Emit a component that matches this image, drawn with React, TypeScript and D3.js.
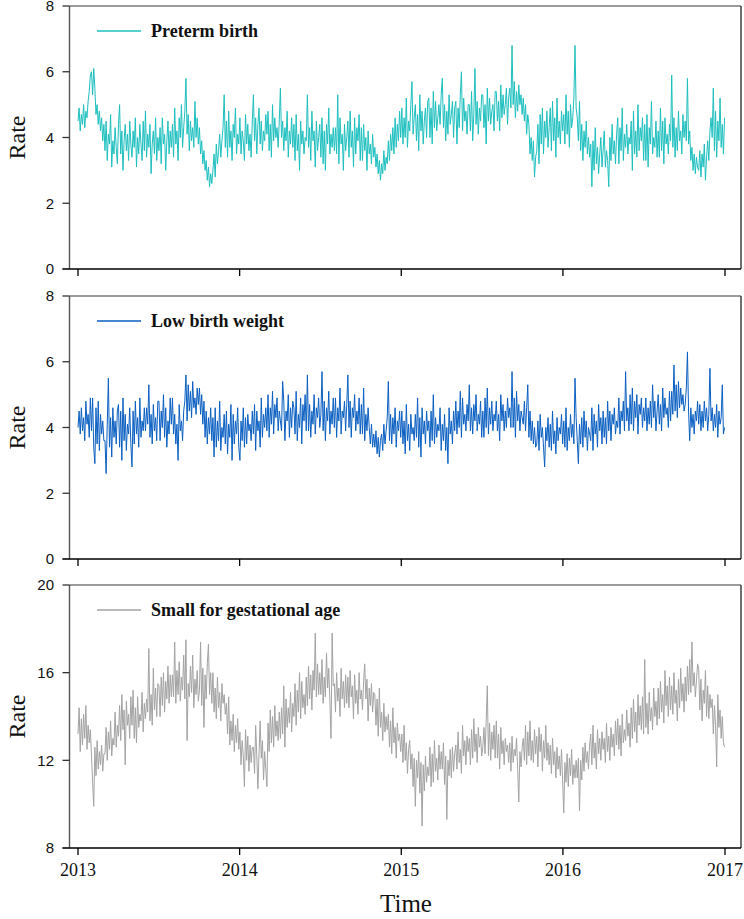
import React from "react";
import * as d3 from "d3";

// ---------- DATA (12 samples per month, Jan 2013 .. Dec 2016) ----------
const yearTicks = [2013, 2014, 2015, 2016, 2017];

const seriesNames = ["Preterm birth", "Low birth weight", "Small for gestational age"];

const pretermRate = [
  4.5, 4.9, 4.2, 4.7, 4.4, 5.0, 4.3, 4.8, 4.6, 5.1, 5.4, 5.9,
  6.0, 5.3, 6.1, 5.5, 4.7, 5.0, 4.4, 4.8, 4.2, 4.6, 3.9, 4.4,
  3.6, 4.5, 3.3, 4.1, 3.8, 4.7, 3.1, 3.9, 3.5, 4.3, 3.7, 3.2,
  4.4, 5.0, 3.5, 4.2, 3.0, 3.9, 4.4, 3.6, 4.1, 3.3, 4.5, 3.8,
  3.4, 4.2, 3.7, 4.6, 3.1, 4.0, 3.5, 4.4, 3.8, 3.3, 4.5, 3.6,
  4.8, 3.4, 4.1, 3.7, 4.4, 2.9, 3.8, 4.2, 3.5, 4.6, 3.3, 4.0,
  3.6, 4.3, 3.2, 4.6, 3.8, 4.1, 3.0, 3.9, 4.5, 3.5, 4.2, 3.7,
  4.4, 3.4, 4.9, 3.8, 4.2, 3.3, 4.6, 4.0, 5.0, 3.7, 4.3, 4.8,
  5.8, 4.1, 4.7, 3.6, 4.5, 3.9, 4.3, 3.7, 5.1, 4.0, 4.6, 3.8,
  4.3, 3.5, 3.9, 3.2, 3.6, 3.0, 3.3, 2.7, 3.1, 2.5, 2.9, 2.6,
  3.0, 3.5, 2.8, 3.8, 3.2, 3.6, 4.1, 3.4, 3.9, 4.3, 5.3, 3.7,
  4.5, 3.4, 4.8, 3.7, 4.2, 3.3, 4.4, 4.0, 4.9, 3.5, 4.1, 3.8,
  4.6, 3.5, 4.2, 3.9, 3.3, 4.7, 3.8, 4.4, 3.6, 4.1, 3.4, 4.5,
  5.3, 3.9, 4.6, 3.5, 4.4, 4.9, 3.8, 4.5, 3.6, 4.2, 3.9, 4.7,
  4.1, 4.8, 3.6, 4.4, 3.4, 5.0, 3.9, 4.6, 4.0, 4.3, 3.7, 4.5,
  5.5, 4.0, 4.5, 3.6, 4.3, 3.9, 4.8, 3.4, 4.2, 3.8, 4.6, 3.7,
  4.4, 3.3, 4.7, 3.6, 4.1, 3.0, 4.5, 3.8, 4.2, 3.5, 4.0, 3.9,
  5.3, 3.7, 4.3, 3.3, 4.8, 3.9, 4.2, 3.1, 4.5, 3.6, 4.0, 4.4,
  3.4, 4.6, 3.2, 4.2, 3.0, 4.4, 3.8, 4.9, 3.5, 4.1, 3.7, 4.3,
  3.6, 4.3, 3.5, 5.3, 3.2, 4.6, 3.8, 4.1, 3.0, 4.4, 3.6, 4.0,
  4.5, 3.4, 4.8, 3.7, 4.2, 3.1, 4.6, 3.5, 4.3, 3.9, 4.7, 3.3,
  4.3, 3.3, 4.4, 3.6, 4.0, 3.0, 4.2, 3.5, 3.8, 3.2, 4.1, 3.4,
  3.7, 3.1, 3.5, 2.9, 3.3, 2.7, 3.2, 2.9, 3.6, 3.0, 3.4, 3.2,
  3.9, 3.3, 4.1, 3.6, 4.3, 3.5, 4.6, 3.7, 4.4, 3.9, 4.8, 4.0,
  4.9, 3.8, 4.6, 4.0, 5.2, 3.7, 4.5, 4.2, 5.0, 5.7, 4.1, 4.6,
  5.0, 3.9, 4.7, 3.6, 5.3, 4.2, 4.8, 3.8, 4.5, 4.9, 4.0, 5.1,
  5.2, 4.0, 4.9, 3.8, 5.4, 4.3, 5.1, 4.2, 4.6, 5.0, 4.4, 5.3,
  5.8, 4.3, 5.0, 3.9, 4.8, 4.1, 5.3, 4.4, 4.7, 5.1, 4.0, 4.9,
  5.1, 3.8, 4.9, 4.3, 5.3, 6.0, 4.2, 5.2, 4.5, 4.8, 4.1, 5.0,
  5.0, 4.2, 5.4, 3.9, 4.7, 6.1, 4.4, 5.1, 4.1, 4.9, 4.5, 5.3,
  5.3, 4.3, 5.0, 3.8, 5.5, 4.5, 5.2, 4.4, 4.8, 5.0, 4.2, 5.4,
  5.4, 4.5, 5.1, 4.2, 5.6, 4.6, 5.3, 4.7, 5.0, 5.5, 4.4, 5.2,
  5.5, 4.9, 6.8, 5.0, 5.7, 4.6, 5.4, 4.8, 5.6, 5.0, 5.3, 4.7,
  5.2, 4.5, 5.0, 4.1, 4.7, 4.4, 3.5, 4.0, 3.3, 3.9, 2.8, 3.4,
  3.6, 4.4, 3.2, 4.7, 3.8, 4.9, 3.5, 4.5, 4.0, 4.8, 3.7, 4.3,
  4.9, 3.6, 5.1, 3.9, 4.6, 3.4, 5.2, 4.0, 4.5, 3.8, 4.8, 4.2,
  4.7, 3.8, 5.3, 4.1, 4.8, 3.7, 5.0, 4.3, 4.6, 5.2, 6.8, 4.9,
  4.6, 3.9, 5.1, 3.6, 4.4, 3.3, 4.2, 3.7, 4.5, 3.5, 4.0, 3.4,
  3.8, 2.5, 3.9, 3.0, 4.3, 3.2, 3.7, 2.9, 3.5, 4.0, 3.1, 3.6,
  4.2, 3.1, 3.6, 3.3, 2.5, 4.0, 3.3, 4.4, 3.5, 3.9, 3.2, 4.1,
  4.6, 3.2, 4.3, 3.6, 4.9, 3.3, 4.1, 3.7, 4.4, 3.5, 4.0, 3.8,
  4.5, 3.0, 4.8, 3.5, 4.2, 3.4, 5.0, 3.6, 4.3, 3.9, 4.6, 3.3,
  4.4, 3.3, 4.7, 3.1, 4.3, 3.8, 5.1, 3.5, 4.0, 3.7, 4.5, 3.4,
  4.2, 3.4, 4.9, 3.6, 4.5, 3.2, 4.6, 3.8, 4.1, 3.5, 4.4, 3.9,
  5.9, 3.7, 4.6, 3.4, 4.3, 3.6, 4.8, 3.9, 4.2, 3.5, 4.7, 4.0,
  4.5, 3.9, 5.8, 3.8, 4.2, 3.3, 3.7, 3.0, 3.5, 2.9, 3.4, 3.1,
  3.0, 3.6, 2.8, 3.5, 3.1, 3.8, 2.7, 3.4, 3.9, 3.3, 4.2, 4.6,
  4.0, 5.5, 3.6, 4.8, 3.4, 4.5, 3.9, 5.2, 3.7, 4.4, 3.5, 4.6,
];

const lowBirthWeightRate = [
  4.0, 4.5, 3.8, 4.6, 3.9, 4.3, 3.6, 4.8, 4.1, 4.4, 3.7, 4.9,
  3.9, 4.9, 3.4, 2.9, 4.6, 3.5, 4.8, 3.3, 4.4, 3.8, 4.2, 3.6,
  3.6, 2.6, 4.1, 5.5, 3.4, 4.3, 3.1, 4.6, 3.7, 4.2, 3.5, 4.5,
  4.7, 3.4, 4.5, 3.0, 4.9, 3.6, 4.4, 3.3, 4.1, 3.8, 4.6, 3.5,
  2.8, 4.5, 3.5, 4.8, 3.8, 4.3, 3.4, 4.9, 3.7, 4.2, 3.9, 4.6,
  3.9, 4.6, 4.1, 5.3, 3.7, 4.4, 3.5, 4.7, 3.9, 4.3, 3.6, 4.8,
  4.8, 3.6, 4.5, 4.0, 5.0, 3.7, 4.6, 3.4, 4.2, 3.8, 4.9, 4.1,
  4.9, 3.8, 4.4, 3.5, 4.1, 3.0, 4.7, 3.9, 4.2, 3.6, 4.5, 4.8,
  5.6, 4.2, 5.3, 4.5, 5.1, 4.3, 5.4, 4.6, 4.9, 4.4, 5.2, 4.7,
  5.2, 4.4, 5.0, 4.1, 4.8, 3.7, 4.5, 3.5, 4.3, 3.8, 4.6, 3.6,
  4.3, 3.1, 4.6, 3.4, 4.2, 3.6, 4.8, 3.3, 4.0, 3.7, 4.4, 3.5,
  4.5, 3.2, 4.1, 3.7, 4.7, 3.0, 4.4, 3.5, 4.2, 3.8, 4.6, 3.4,
  3.0, 4.2, 3.6, 4.6, 3.4, 4.3, 3.5, 4.4, 3.9, 4.1, 3.6, 4.5,
  3.8, 4.7, 3.3, 4.5, 3.9, 4.2, 3.4, 4.9, 3.7, 4.4, 4.0, 4.6,
  3.9, 5.0, 3.7, 4.6, 4.1, 5.1, 3.8, 4.7, 4.3, 4.9, 3.9, 4.5,
  4.2, 3.9, 5.4, 4.8, 3.6, 4.5, 4.2, 5.0, 3.7, 4.6, 4.0, 4.8,
  4.6, 3.8, 5.1, 3.6, 4.4, 4.0, 4.9, 3.5, 4.7, 4.2, 5.0, 3.9,
  5.6, 3.9, 4.7, 3.7, 4.5, 4.1, 5.0, 3.8, 4.6, 4.3, 4.9, 4.0,
  4.4, 5.7, 3.9, 4.8, 3.6, 4.6, 4.2, 5.1, 3.8, 4.5, 4.1, 4.9,
  4.0, 4.9, 3.7, 4.6, 4.2, 5.2, 3.8, 4.5, 4.3, 4.8, 3.9, 4.7,
  5.6, 4.0, 4.8, 3.7, 4.6, 4.3, 5.0, 3.9, 4.5, 4.1, 4.9, 3.8,
  4.7, 3.8, 5.2, 3.6, 4.4, 3.9, 4.6, 4.0, 3.5, 4.1, 3.4, 3.8,
  3.4, 3.9, 3.2, 3.7, 3.1, 3.6, 3.8, 3.3, 4.1, 3.5, 3.9, 4.3,
  5.4, 3.6, 4.4, 3.5, 4.3, 3.8, 4.6, 3.4, 4.2, 3.9, 4.5, 3.7,
  4.5, 3.5, 4.2, 3.2, 4.7, 3.6, 4.1, 3.3, 4.4, 3.8, 4.0, 3.6,
  4.4, 3.7, 4.9, 3.4, 4.3, 3.1, 4.6, 3.8, 4.2, 3.5, 4.5, 3.9,
  4.2, 3.4, 4.5, 3.6, 5.0, 3.5, 4.3, 3.7, 4.1, 3.9, 4.6, 3.3,
  4.1, 3.6, 4.4, 3.3, 4.0, 2.9, 4.6, 3.8, 4.2, 3.5, 4.5, 3.9,
  4.8, 3.8, 4.5, 4.0, 5.1, 3.7, 4.9, 4.1, 4.4, 3.9, 4.7, 4.2,
  5.3, 3.9, 4.6, 3.8, 4.7, 4.2, 5.0, 3.9, 4.4, 4.1, 4.8, 3.7,
  4.5, 3.7, 4.9, 4.0, 5.2, 3.8, 4.6, 4.1, 4.8, 3.9, 4.4, 4.2,
  4.8, 3.9, 4.4, 3.6, 5.0, 4.2, 4.7, 3.9, 4.5, 4.0, 4.9, 4.3,
  4.6, 4.0, 5.7, 4.0, 4.9, 3.7, 5.1, 4.2, 4.7, 3.9, 4.5, 4.3,
  4.1, 4.8, 3.9, 4.6, 5.3, 3.7, 4.5, 3.6, 4.2, 3.5, 4.0, 3.4,
  3.5, 4.2, 3.3, 4.4, 3.7, 4.0, 3.4, 2.8, 4.0, 3.6, 4.3, 3.4,
  4.1, 3.3, 4.5, 3.5, 3.9, 3.2, 4.3, 3.6, 4.0, 3.8, 4.4, 3.5,
  4.2, 3.4, 4.6, 3.3, 4.0, 3.6, 4.4, 3.7, 4.1, 3.5, 5.5, 4.3,
  3.6, 2.9, 4.1, 3.5, 4.3, 3.4, 4.5, 3.7, 4.2, 3.3, 4.0, 3.8,
  3.6, 4.6, 3.3, 4.4, 3.8, 4.2, 3.4, 4.7, 3.9, 4.3, 3.5, 4.5,
  3.7, 4.3, 3.5, 4.8, 3.9, 4.5, 3.6, 4.4, 4.1, 4.6, 3.8, 4.2,
  4.0, 4.9, 3.8, 4.5, 4.2, 4.8, 3.9, 5.7, 4.2, 4.6, 3.9, 5.0,
  4.1, 5.2, 3.9, 4.8, 4.3, 5.0, 3.8, 4.7, 4.4, 4.9, 4.0, 4.6,
  4.2, 4.9, 3.9, 4.6, 4.1, 4.8, 4.0, 5.3, 4.3, 4.8, 3.9, 4.5,
  5.0, 4.1, 4.7, 3.9, 5.2, 4.3, 4.9, 4.4, 4.6, 4.0, 5.1, 4.2,
  5.1, 4.4, 5.9, 4.5, 5.3, 4.3, 5.4, 4.6, 5.2, 4.7, 5.0, 4.5,
  4.7, 5.2, 6.3, 4.5, 3.6, 4.6, 4.0, 4.4, 3.8, 4.5, 4.2, 4.8,
  4.1, 4.7, 3.9, 4.5, 4.0, 4.8, 4.2, 4.6, 3.9, 4.4, 5.8, 4.2,
  4.6, 3.9, 4.4, 4.0, 4.7, 3.7, 4.5, 4.1, 4.3, 5.3, 3.8, 4.0,
];

const smallForGestAgeRate = [
  13.2, 14.4, 12.4, 13.9, 12.7, 14.1, 13.0, 14.5, 12.5, 13.6, 12.8, 13.4,
  12.2, 11.0, 9.9, 12.6, 11.3, 12.9, 11.6, 12.4, 11.8, 12.7, 11.5, 12.3,
  12.3, 13.5, 12.0, 13.3, 12.5, 13.8, 12.2, 13.0, 12.7, 14.2, 12.6, 13.6,
  13.1, 14.5, 12.9, 15.0, 13.4, 14.3, 11.8, 14.7, 13.6, 14.1, 13.0, 14.9,
  13.6, 15.2, 13.0, 14.4, 12.8, 14.9, 13.5, 14.1, 13.8, 15.1, 13.3, 14.6,
  13.9, 14.8, 14.2, 17.1, 13.8, 15.0, 13.6, 16.2, 14.3, 15.3, 14.0, 15.5,
  15.4, 14.0, 15.8, 14.5, 16.0, 14.2, 15.6, 14.8, 16.3, 14.6, 15.9, 14.9,
  15.9, 14.9, 17.4, 14.6, 16.1, 15.0, 16.5, 14.7, 15.8, 15.2, 16.8, 14.8,
  17.5, 12.9, 15.5, 14.9, 16.3, 15.1, 16.8, 14.4, 15.7, 15.0, 16.1, 14.7,
  15.2, 17.4, 14.5, 16.2, 13.5, 15.9, 14.8, 16.4, 17.3, 15.0, 16.0, 14.6,
  16.0, 14.2, 15.3, 13.9, 15.8, 14.4, 15.1, 13.8, 15.5, 14.6, 15.0, 14.1,
  14.6, 13.2, 14.9, 12.7, 13.8, 12.9, 14.1, 12.4, 13.6, 12.8, 13.9, 12.5,
  13.3, 11.8, 12.9, 12.2, 10.8, 13.4, 12.0, 13.1, 11.5, 12.7, 11.9, 12.6,
  12.6, 11.4, 13.6, 12.2, 10.7, 12.3, 13.8, 12.1, 12.9, 11.1, 12.4, 11.6,
  10.8, 13.7, 12.4, 14.3, 12.8, 14.0, 12.6, 14.5, 13.1, 13.8, 12.9, 14.2,
  13.0, 14.4, 13.2, 15.4, 12.6, 14.8, 13.5, 14.4, 13.7, 15.1, 13.3, 14.6,
  14.0, 15.5, 13.6, 15.2, 14.2, 16.0, 13.9, 15.6, 14.4, 15.0, 14.1, 15.8,
  14.5, 16.3, 14.8, 15.9, 14.3, 16.1, 15.2, 17.8, 14.9, 16.4, 15.0, 16.0,
  15.0, 16.6, 14.6, 15.8, 14.9, 16.9, 15.3, 16.2, 14.7, 13.0, 17.8, 15.4,
  15.5, 14.2, 16.0, 14.7, 15.3, 14.0, 16.2, 14.8, 15.6, 14.4, 15.9, 14.6,
  15.8, 14.4, 16.1, 14.9, 15.4, 13.9, 15.9, 14.6, 15.2, 14.1, 16.0, 14.8,
  15.2, 14.3, 15.6, 16.4, 14.8, 15.7, 13.8, 15.3, 14.5, 15.5, 14.2, 15.1,
  15.0, 13.6, 14.8, 13.1, 15.3, 13.5, 14.2, 12.9, 14.6, 13.3, 14.0, 13.4,
  14.1, 12.6, 13.8, 12.3, 14.4, 12.8, 13.5, 12.1, 13.7, 12.9, 13.2, 12.4,
  13.2, 11.9, 13.6, 12.0, 12.8, 11.4, 12.5, 12.9, 11.6, 12.3, 10.8, 12.1,
  9.9, 12.0, 11.2, 12.4, 10.5, 11.9, 9.0, 11.8, 10.6, 12.2, 11.0, 11.7,
  11.3, 12.6, 10.8, 12.3, 11.0, 12.9, 11.5, 12.1, 11.1, 12.7, 11.6, 12.4,
  11.6, 12.8, 10.9, 12.2, 9.3, 12.0, 11.3, 12.5, 11.2, 12.6, 11.5, 12.3,
  12.7, 11.6, 13.3, 11.9, 12.5, 11.4, 13.6, 12.2, 12.9, 11.8, 13.1, 12.4,
  13.0, 11.8, 13.4, 12.1, 13.9, 12.4, 13.2, 11.9, 13.5, 12.6, 13.1, 12.2,
  12.6, 13.5, 12.3, 13.8, 15.4, 12.2, 13.7, 12.0, 13.3, 12.5, 13.6, 12.1,
  13.8, 12.1, 13.2, 11.6, 13.5, 12.3, 12.9, 11.8, 13.0, 12.4, 12.7, 11.9,
  12.8, 11.5, 13.1, 11.9, 12.5, 12.2, 13.0, 11.6, 10.1, 12.4, 11.7, 12.6,
  13.0, 12.0, 13.6, 11.8, 13.3, 12.2, 13.8, 12.0, 12.9, 11.9, 13.4, 12.3,
  13.1, 11.7, 13.5, 12.4, 13.2, 11.5, 12.9, 12.1, 13.6, 12.0, 12.8, 11.8,
  12.7, 11.4, 13.0, 11.8, 12.4, 11.2, 12.6, 11.6, 12.2, 11.3, 12.5, 11.1,
  9.6, 11.9, 11.0, 12.3, 10.8, 12.1, 11.3, 12.5, 10.9, 11.8, 11.2, 12.0,
  11.2, 12.1, 9.7, 12.0, 11.1, 12.6, 11.5, 12.8, 11.9, 12.4, 11.6, 12.7,
  13.2, 11.8, 13.6, 12.1, 12.8, 11.6, 13.4, 12.3, 13.0, 12.0, 13.3, 12.5,
  13.0, 11.9, 13.7, 12.4, 13.1, 12.0, 13.5, 12.6, 13.2, 12.2, 13.8, 12.7,
  13.9, 12.5, 13.6, 12.2, 14.1, 12.8, 13.4, 12.9, 14.3, 13.1, 13.7, 12.6,
  14.4, 13.0, 14.8, 13.3, 14.2, 12.8, 15.0, 13.6, 14.5, 13.4, 14.9, 13.2,
  16.6, 13.5, 14.6, 13.2, 15.1, 13.8, 14.4, 13.4, 15.3, 14.0, 14.7, 13.6,
  15.3, 13.9, 15.6, 14.2, 15.0, 13.7, 16.1, 14.5, 15.4, 14.0, 15.8, 14.3,
  15.4, 14.1, 16.0, 14.6, 15.2, 13.8, 15.7, 14.4, 16.2, 14.7, 15.5, 14.2,
  15.8, 14.7, 16.3, 15.0, 16.6, 15.1, 17.4, 15.4, 16.0, 14.9, 15.6, 16.4,
  16.2, 14.3, 15.7, 13.8, 15.2, 14.6, 16.1, 14.0, 15.4, 13.9, 15.0, 14.4,
  14.8, 13.2, 14.5, 13.6, 11.7, 15.0, 13.5, 14.3, 13.0, 14.0, 12.8, 12.6,
];

const seriesColors = ["#1ebfbf", "#0a5fc2", "#a3a3a3"];
const yDomains: [number, number][] = [[0, 8], [0, 8], [8, 20]];
const yTickValues = [[0, 2, 4, 6, 8], [0, 2, 4, 6, 8], [8, 12, 16, 20]];

// ---------- LAYOUT ----------
const W = 744;
const H = 919;
const plotLeft = 69.5;
const plotRight = 741;
const panelTops = [6, 296, 585];
const panelBottoms = [269, 559, 848];
const serif = "'Liberation Serif', 'Times New Roman', serif";
const sans = "'Liberation Sans', Arial, sans-serif";

const start = Date.UTC(2013, 0, 1);
const end = Date.UTC(2017, 0, 1);
const xScale = d3.scaleUtc().domain([new Date(start), new Date(end)]).range([78, 725]);

function toPoints(values: number[]) {
  const n = values.length;
  const step = (end - start - 86400000) / (n - 1);
  return values.map((v, i) => ({ date: new Date(start + i * step), value: v }));
}

const allSeries = [pretermRate, lowBirthWeightRate, smallForGestAgeRate];

export default function App() {
  return (
    <svg
      width={W}
      height={H}
      viewBox={`0 0 ${W} ${H}`}
      style={{ position: "absolute", left: 0, top: 0, background: "#fff" }}
    >
      <rect x={0} y={0} width={W} height={H} fill="#fff" />
      {allSeries.map((vals, p) => {
        const top = panelTops[p];
        const bottom = panelBottoms[p];
        const y = d3.scaleLinear().domain(yDomains[p]).range([bottom, top]);
        const line = d3
          .line<{ date: Date; value: number }>()
          .x((d) => xScale(d.date))
          .y((d) => y(d.value));
        const pts = toPoints(vals);
        const legendY = top + 25;
        return (
          <g key={p}>
            <path d={line(pts) || ""} fill="none" stroke={seriesColors[p]} strokeWidth={1} strokeLinejoin="round" />
            {/* frame */}
            <line x1={plotLeft} x2={plotRight} y1={top} y2={top} stroke="#7a7a7a" strokeWidth={1.6} />
            <line x1={plotRight} x2={plotRight} y1={top} y2={bottom} stroke="#333" strokeWidth={1.4} />
            <line x1={plotLeft} x2={plotLeft} y1={top} y2={bottom} stroke="#555" strokeWidth={1.4} />
            <line x1={plotLeft - 7} x2={plotRight} y1={bottom} y2={bottom} stroke="#000" strokeWidth={1.5} />
            {/* y ticks */}
            {yTickValues[p].map((t) => (
              <g key={t}>
                <line x1={plotLeft - 7} x2={plotLeft} y1={y(t)} y2={y(t)} stroke="#333" strokeWidth={1.3} />
                <text
                  x={54}
                  y={y(t)}
                  dy="0.36em"
                  textAnchor="end"
                  fontFamily={sans}
                  fontSize={15}
                  fill="#111"
                >
                  {t}
                </text>
              </g>
            ))}
            {/* x ticks */}
            {yearTicks.map((yr) => {
              const xx = xScale(new Date(Date.UTC(yr, 0, 1)));
              return <line key={yr} x1={xx} x2={xx} y1={bottom} y2={bottom + 7} stroke="#000" strokeWidth={1.3} />;
            })}
            {/* y label */}
            <text
              transform={`translate(25, ${(top + bottom) / 2}) rotate(-90)`}
              textAnchor="middle"
              fontFamily={serif}
              fontSize={24}
              fill="#111"
            >
              Rate
            </text>
            {/* legend */}
            <line x1={97} x2={141} y1={legendY} y2={legendY} stroke={seriesColors[p]} strokeWidth={1.5} />
            <text x={151} y={legendY + 6} fontFamily={serif} fontWeight="bold" fontSize={18} fill="#111">
              {seriesNames[p]}
            </text>
          </g>
        );
      })}
      {yearTicks.map((yr) => (
        <text
          key={yr}
          x={xScale(new Date(Date.UTC(yr, 0, 1)))}
          y={876}
          textAnchor="middle"
          fontFamily={serif}
          fontSize={18}
          fill="#111"
        >
          {yr}
        </text>
      ))}
      <text x={406} y={912} textAnchor="middle" fontFamily={serif} fontSize={25} fill="#111">
        Time
      </text>
    </svg>
  );
}
